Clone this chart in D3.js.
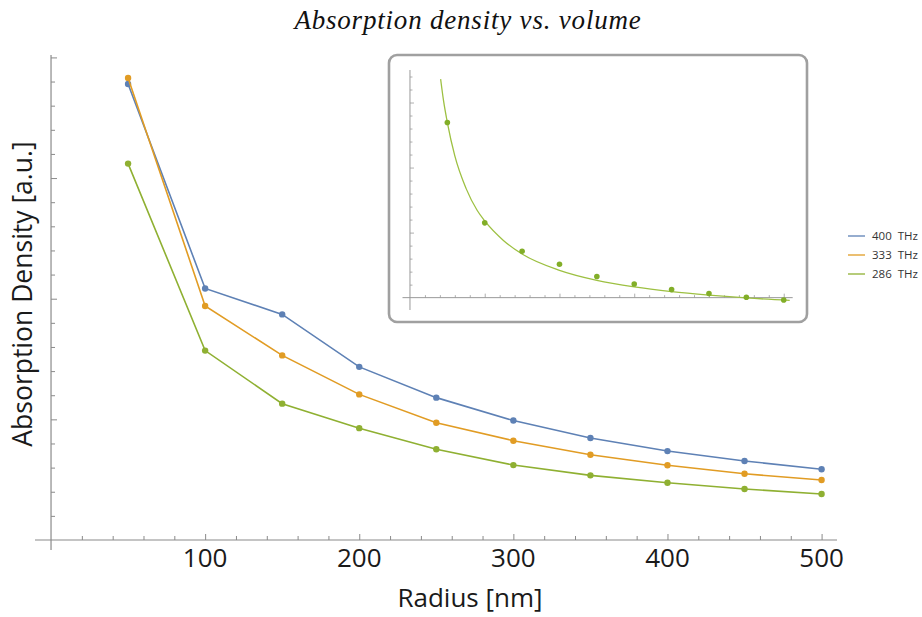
<!DOCTYPE html>
<html>
<head>
<meta charset="utf-8">
<script src="https://cdn.jsdelivr.net/npm/d3@7"></script>
<style>
  body { margin: 0; background: #fff; }
  text { font-family: "Open Sans", "Noto Sans", sans-serif; }
</style>
</head>
<body>
<script>
// main plot data
const radius = [50, 100, 150, 200, 250, 300, 350, 400, 450, 500];
const series_names = ["400  THz", "333  THz", "286  THz"];
const series_colors = ["#5E81B5", "#E19C24", "#8FB032"];
const dens_400 = [3.78, 2.085, 1.87, 1.435, 1.18, 0.99, 0.845, 0.737, 0.655, 0.587];
const dens_333 = [3.83, 1.94, 1.53, 1.207, 0.972, 0.823, 0.707, 0.619, 0.549, 0.497];
const dens_286 = [3.12, 1.57, 1.13, 0.927, 0.752, 0.621, 0.536, 0.475, 0.423, 0.381];
const x_ticks = [100, 200, 300, 400, 500];

// inset data (286 THz vs volume) and fitted curve
const inset_pts = [13.46, 5.75, 3.57, 2.57, 1.62, 1.05, 0.62, 0.31, 0.03, -0.18];
const fit_r = [41, 45, 50, 60, 75, 90, 100, 125, 150, 200, 250, 300, 350, 400, 450, 508];
const fit_v = [16.8, 15.1, 13.46, 10.9, 8.4, 6.7, 5.9, 4.4, 3.35, 2.1, 1.33, 0.83, 0.47, 0.2, -0.02, -0.21];

const width = 922, height = 617;
const svg = d3.select('body').append('svg')
    .attr('width', width)
    .attr('height', height);

const x_scale = d3.scaleLinear().domain([-10.4, 510]).range([35, 837]);
const y_scale = d3.scaleLinear().domain([0, 4.02]).range([540, 55]);

// title
svg.append('text')
    .attr('x', 468).attr('y', 29)
    .attr('text-anchor', 'middle')
    .style('font-family', '"Liberation Serif", "DejaVu Serif", serif')
    .style('font-style', 'italic')
    .style('font-size', '27px')
    .style('letter-spacing', '0.8px')
    .attr('fill', '#111')
    .text('Absorption density vs. volume');

// axes
const axis_col = '#8a8a8a';
const minor_x = d3.range(20, 510, 20);
const x_axis = d3.axisBottom(x_scale)
    .tickValues(minor_x)
    .tickSizeInner(-4).tickSizeOuter(0)
    .tickFormat('');
const gx = svg.append('g')
    .attr('transform', 'translate(0,' + y_scale(0) + ')')
    .call(x_axis);

const minor_y = d3.range(1, 21).map(i => i * 0.2);
const y_axis = d3.axisLeft(y_scale)
    .tickValues(minor_y)
    .tickSizeInner(-4).tickSizeOuter(0)
    .tickFormat('');
const gy = svg.append('g')
    .attr('transform', 'translate(' + x_scale(0) + ',0)')
    .call(y_axis);

[gx, gy].forEach(g => {
    g.select('.domain').remove();
    g.selectAll('line').attr('stroke', axis_col).attr('stroke-width', 1);
});
gy.selectAll('.tick line').filter(d => Math.abs(d % 1) < 1e-6 || Math.abs(d % 1 - 1) < 1e-6)
    .attr('x2', 6);
gx.selectAll('.tick line').filter(d => d % 100 === 0).attr('y2', -6);

svg.append('line')
    .attr('x1', x_scale(-10.4)).attr('x2', x_scale(510))
    .attr('y1', y_scale(0)).attr('y2', y_scale(0))
    .attr('stroke', axis_col).attr('stroke-width', 1.2);
svg.append('line')
    .attr('x1', x_scale(0)).attr('x2', x_scale(0))
    .attr('y1', 550).attr('y2', y_scale(4.02))
    .attr('stroke', axis_col).attr('stroke-width', 1.2);

// tick labels
svg.append('g').selectAll('text')
    .data(x_ticks).enter()
    .append('text')
    .attr('x', d => x_scale(d))
    .attr('y', 567)
    .attr('text-anchor', 'middle')
    .style('font-size', '26px')
    .attr('fill', '#1a1a1a')
    .text(d => d);

// axis labels
svg.append('text')
    .attr('x', 470).attr('y', 607)
    .attr('text-anchor', 'middle')
    .style('font-size', '26px')
    .attr('fill', '#1a1a1a')
    .text('Radius [nm]');
svg.append('text')
    .attr('transform', 'translate(32,294) rotate(-90)')
    .attr('text-anchor', 'middle')
    .style('font-size', '26.5px')
    .attr('fill', '#1a1a1a')
    .text('Absorption Density [a.u.]');

// series
const all_series = [dens_400, dens_333, dens_286];
const line = d3.line()
    .x((d, i) => x_scale(radius[i]))
    .y(d => y_scale(d));

all_series.forEach((vals, k) => {
    svg.append('path')
        .attr('d', line(vals))
        .attr('fill', 'none')
        .attr('stroke', series_colors[k])
        .attr('stroke-width', 1.6);
    svg.append('g').selectAll('circle')
        .data(vals).enter()
        .append('circle')
        .attr('cx', (d, i) => x_scale(radius[i]))
        .attr('cy', d => y_scale(d))
        .attr('r', 3.2)
        .attr('fill', series_colors[k]);
});

// legend
const legend = svg.append('g').attr('transform', 'translate(848,236)');
series_names.forEach((name, k) => {
    legend.append('line')
        .attr('x1', 0).attr('x2', 17)
        .attr('y1', k * 19).attr('y2', k * 19)
        .attr('stroke', series_colors[k])
        .attr('stroke-width', 1.3);
    legend.append('text')
        .attr('x', 24).attr('y', k * 19 + 4)
        .style('font-size', '11.5px')
        .style('white-space', 'pre')
        .attr('fill', '#333')
        .text(name);
});

// inset
svg.append('rect')
    .attr('x', 389).attr('y', 55)
    .attr('width', 418).attr('height', 267)
    .attr('rx', 8).attr('ry', 8)
    .attr('fill', '#fff')
    .attr('stroke', '#a0a0a0')
    .attr('stroke-width', 2.6);

const ix = d3.scaleLinear().domain([-10, 512]).range([402.5, 792.7]);
const iy = d3.scaleLinear().domain([-0.95, 17.5]).range([310, 70]);

const ix_axis = d3.axisBottom(ix)
    .tickValues(d3.range(20, 512, 20))
    .tickSizeInner(-2.5).tickSizeOuter(0).tickFormat('');
const igx = svg.append('g')
    .attr('transform', 'translate(0,' + iy(0) + ')')
    .call(ix_axis);
const iy_axis = d3.axisLeft(iy)
    .tickValues(d3.range(1, 18))
    .tickSizeInner(-2.5).tickSizeOuter(0).tickFormat('');
const igy = svg.append('g')
    .attr('transform', 'translate(' + ix(0) + ',0)')
    .call(iy_axis);
[igx, igy].forEach(g => {
    g.select('.domain').remove();
    g.selectAll('line').attr('stroke', '#999').attr('stroke-width', 0.8);
});
igy.selectAll('.tick line').filter(d => d % 5 === 0).attr('x2', 4);
igx.selectAll('.tick line').filter(d => d % 100 === 0).attr('y2', -4);

svg.append('line')
    .attr('x1', ix(-10)).attr('x2', ix(512))
    .attr('y1', iy(0)).attr('y2', iy(0))
    .attr('stroke', '#999').attr('stroke-width', 1);
svg.append('line')
    .attr('x1', ix(0)).attr('x2', ix(0))
    .attr('y1', iy(-0.95)).attr('y2', iy(17.5))
    .attr('stroke', '#999').attr('stroke-width', 1);

const fit_line = d3.line()
    .x((d, i) => ix(fit_r[i]))
    .y(d => iy(d))
    .curve(d3.curveMonotoneX);
svg.append('path')
    .attr('d', fit_line(fit_v))
    .attr('fill', 'none')
    .attr('stroke', '#9DC042')
    .attr('stroke-width', 1.3);

svg.append('g').selectAll('circle')
    .data(inset_pts).enter()
    .append('circle')
    .attr('cx', (d, i) => ix(radius[i]))
    .attr('cy', d => iy(d))
    .attr('r', 2.8)
    .attr('fill', '#82AE28');
</script>
</body>
</html>
